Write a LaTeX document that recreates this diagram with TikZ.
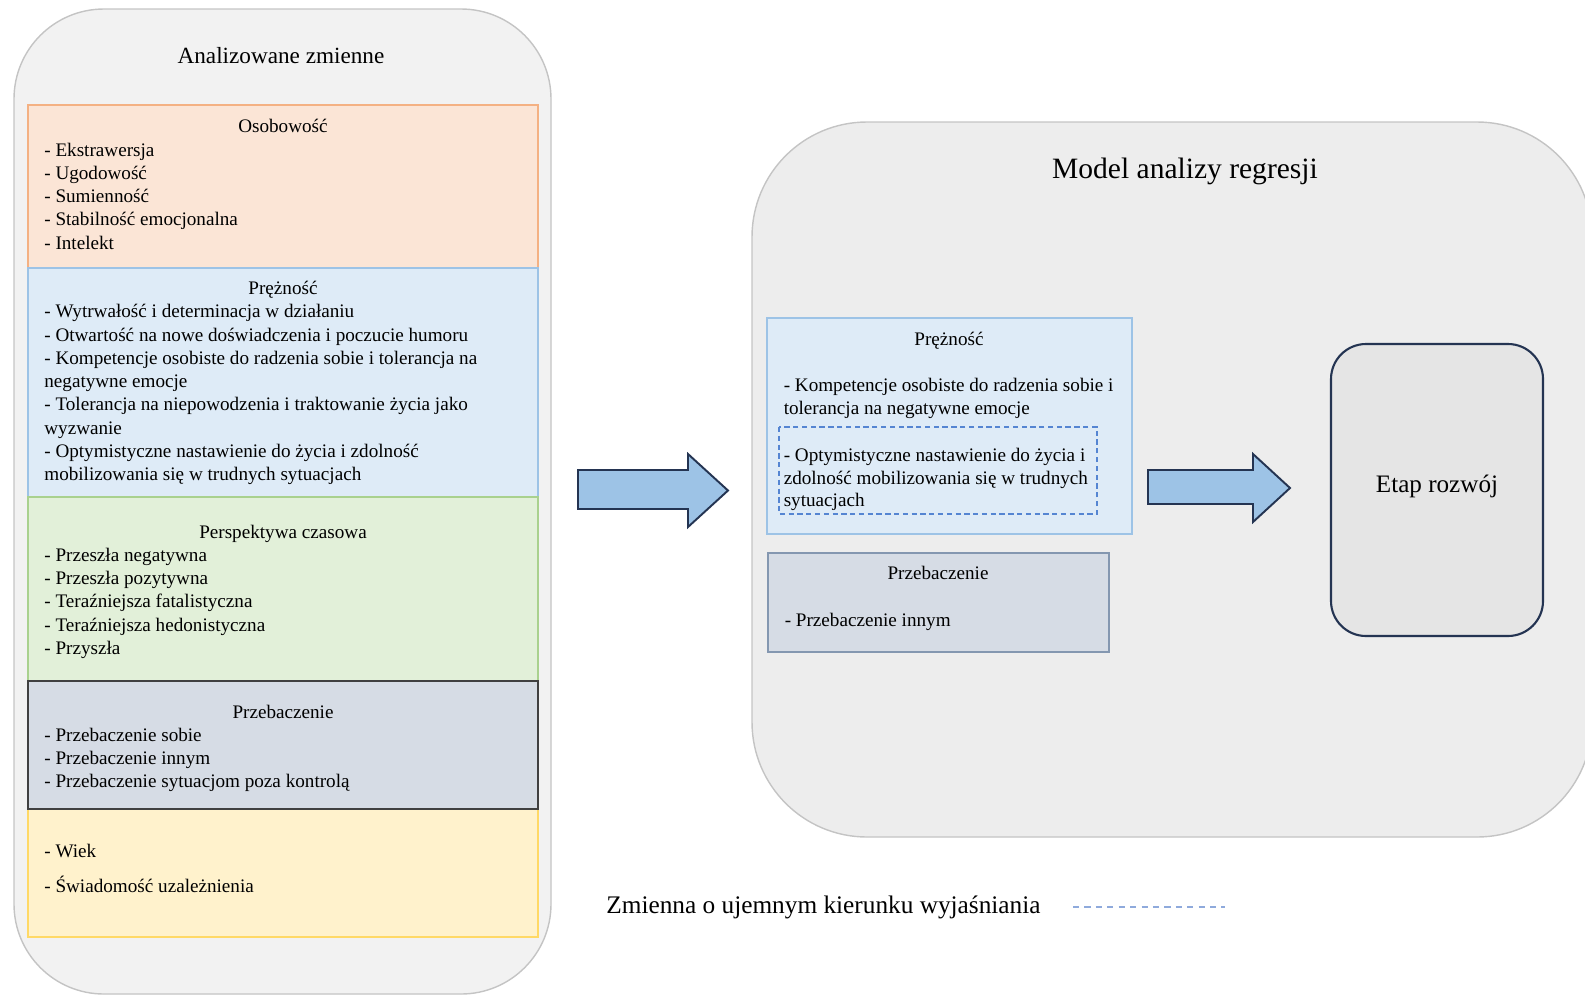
\documentclass[tikz,border=0pt]{standalone}
\usepackage{fontspec}
\setmainfont{Liberation Serif}
\usetikzlibrary{positioning}

\definecolor{panelfill}{HTML}{F2F2F2}
\definecolor{panelline}{HTML}{C4C4C4}
\definecolor{modelfill}{HTML}{EDEDED}
\definecolor{osobfill}{HTML}{FBE5D6}
\definecolor{osobline}{HTML}{F4B183}
\definecolor{prezfill}{HTML}{DEEBF7}
\definecolor{prezline}{HTML}{9DC3E6}
\definecolor{perspfill}{HTML}{E2F0D9}
\definecolor{perspline}{HTML}{A9D18E}
\definecolor{przebfill}{HTML}{D6DCE5}
\definecolor{przebline}{HTML}{8497B0}
\definecolor{wiekfill}{HTML}{FFF2CC}
\definecolor{wiekline}{HTML}{FFD966}
\definecolor{arrowfill}{HTML}{9DC3E6}
\definecolor{navy}{HTML}{243452}
\definecolor{dashblue}{HTML}{5585D2}
\definecolor{legendblue}{HTML}{8FAADC}

\tikzset{
  item/.style={anchor=base west,inner sep=0pt,yshift=-1.4pt,font=\fontsize{10.9}{13}\selectfont},
  head/.style={anchor=base,inner sep=0pt,yshift=-1.4pt,font=\fontsize{10.9}{13}\selectfont},
  title/.style={anchor=base,inner sep=0pt},
  blockarrow/.style={draw=navy,fill=arrowfill,line width=1.1pt,line join=miter},
}

\begin{document}
\begin{tikzpicture}[x=0.02cm,y=-0.02cm]
\useasboundingbox (0,0) rectangle (1585,995);

% left panel
\draw[fill=panelfill,draw=panelline,line width=0.8pt,rounded corners=1.8cm] (14,9) rectangle (551,994);
\node[title,font=\fontsize{13.2}{15}\selectfont] (analiz) at (281,63.5) {Analizowane zmienne};

\draw[fill=osobfill,draw=osobline,line width=0.8pt] (28,105) rectangle (538,268);
\draw[fill=prezfill,draw=prezline,line width=0.8pt] (28,268) rectangle (538,497);
\draw[fill=perspfill,draw=perspline,line width=0.8pt] (28,497) rectangle (538,681);
\draw[fill=wiekfill,draw=wiekline,line width=0.8pt] (28,809) rectangle (538,937);
\draw[fill=przebfill,draw=black!75,line width=1.1pt] (28,681) rectangle (538,809);

\node[head] (osob) at (283,130) {Osobowość};
\foreach \t [count=\i from 0] in {Ekstrawersja,Ugodowość,Sumienność,Stabilność emocjonalna,Intelekt}
  \node[item] (osob\i) at (44,153.6+23.25*\i) {- \t};

\node[head] (prez) at (283,292) {Prężność};
\foreach \t [count=\i from 0] in {- Wytrwałość i determinacja w działaniu,
    - Otwartość na nowe doświadczenia i poczucie humoru,
    - Kompetencje osobiste do radzenia sobie i tolerancja na,
    negatywne emocje,
    - Tolerancja na niepowodzenia i traktowanie życia jako,
    wyzwanie,
    - Optymistyczne nastawienie do życia i zdolność,
    mobilizowania się w trudnych sytuacjach}
  \node[item] (prez\i) at (44,315.3+23.25*\i) {\t};

\node[head] (persp) at (283,535.7) {Perspektywa czasowa};
\foreach \t [count=\i from 0] in {Przeszła negatywna,Przeszła pozytywna,Teraźniejsza fatalistyczna,Teraźniejsza hedonistyczna,Przyszła}
  \node[item] (persp\i) at (44,558.9+23.25*\i) {- \t};

\node[head] (przeb) at (283,715.6) {Przebaczenie};
\foreach \t [count=\i from 0] in {Przebaczenie sobie,Przebaczenie innym,Przebaczenie sytuacjom poza kontrolą}
  \node[item] (przeb\i) at (44,738.8+23.25*\i) {- \t};

\node[item] (wiek) at (44,855) {- Wiek};
\node[item] (swiad) at (44,890.5) {- Świadomość uzależnienia};

% arrow to the model
\draw[blockarrow] (578,470) -- (688,470) -- (688,454) -- (728,490.5) -- (688,527) -- (688,509) -- (578,509) -- cycle;

% right panel
\draw[fill=modelfill,draw=panelline,line width=0.8pt,rounded corners=2.3cm] (752,122) rectangle (1592,837);
\node[title,font=\fontsize{16.8}{19}\selectfont] (model) at (1185,178) {Model analizy regresji};

\draw[fill=prezfill,draw=prezline,line width=0.8pt] (767,318) rectangle (1132,534);
\node[head] (mprez) at (949,342.6) {Prężność};
\node[item] (mprez0) at (783.4,389.1) {- Kompetencje osobiste do radzenia sobie i};
\node[item] (mprez1) at (783.4,412.4) {tolerancja na negatywne emocje};
\draw[draw=dashblue,dash pattern=on 3pt off 2pt,line width=0.7pt] (779,427) rectangle (1097,514);
\node[item] (mprez2) at (783.4,458.8) {- Optymistyczne nastawienie do życia i};
\node[item] (mprez3) at (783.4,482.1) {zdolność mobilizowania się w trudnych};
\node[item] (mprez4) at (783.4,504.3) {sytuacjach};

\draw[fill=przebfill,draw=przebline,line width=1pt] (768,553) rectangle (1109,652);
\node[head] (mprzeb) at (938,577) {Przebaczenie};
\node[item] (mprzeb0) at (784.4,623.6) {- Przebaczenie innym};

\draw[blockarrow] (1148,470) -- (1253,470) -- (1253,454) -- (1290,488) -- (1253,522) -- (1253,504) -- (1148,504) -- cycle;

\draw[fill=black!10,draw=navy,line width=1.2pt,rounded corners=0.7cm] (1331,344) rectangle (1543,636);
\node[title,font=\fontsize{14.3}{17}\selectfont] (etap) at (1437,492) {Etap rozwój};

% legend
\node[item,font=\fontsize{14.4}{17}\selectfont] (legend) at (606,911) {Zmienna o ujemnym kierunku wyjaśniania};
\coordinate (dashA) at (1073,907);
\coordinate (dashB) at (1225,907);
\draw[legendblue,dash pattern=on 3.5pt off 3pt,line width=1pt] (dashA) -- (dashB);
\end{tikzpicture}
\end{document}
